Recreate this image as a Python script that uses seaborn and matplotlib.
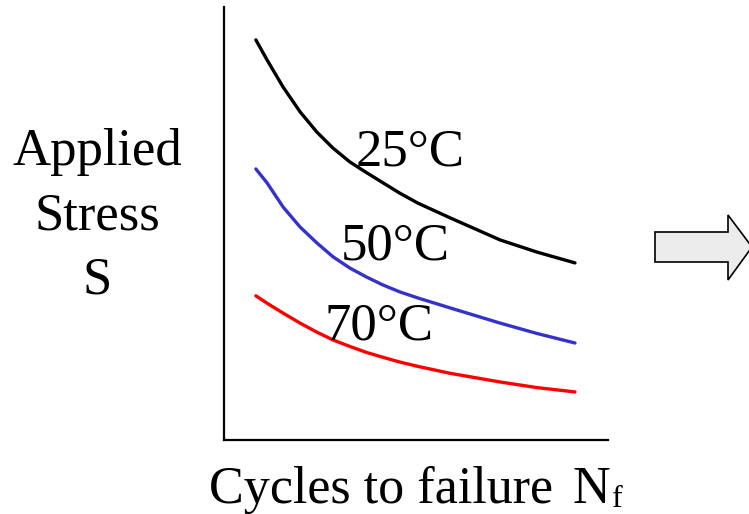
import numpy as np
import pandas as pd
import matplotlib.pyplot as plt
import seaborn as sbn
from matplotlib.patches import Polygon

# Values (arbitrary units, 0-10 on both axes)
cycles = [0.83, 1.12, 1.54, 1.98, 2.42, 2.84, 3.28, 3.72, 4.14, 4.58, 5.05, 5.89, 7.19, 8.15, 9.14]
stress_25 = [9.24, 8.78, 8.15, 7.58, 7.11, 6.74, 6.42, 6.17, 5.94, 5.70, 5.47, 5.13, 4.62, 4.34, 4.09]
stress_50 = [6.26, 5.94, 5.38, 4.92, 4.55, 4.23, 3.97, 3.76, 3.58, 3.42, 3.28, 3.05, 2.70, 2.46, 2.24]
stress_70 = [3.33, 3.16, 2.93, 2.70, 2.49, 2.31, 2.16, 2.02, 1.91, 1.80, 1.70, 1.54, 1.34, 1.21, 1.11]
temps = ["25°C", "50°C", "70°C"]
colors = {"25°C": "#000000", "50°C": "#3333cc", "70°C": "#ff0000"}

df = pd.concat([pd.DataFrame({"Cycles": cycles, "Stress": s, "Temp": t})
                for s, t in zip([stress_25, stress_50, stress_70], temps)],
               ignore_index=True)

sbn.set_style("white")
plt.rcParams['font.family'] = ['Liberation Serif', 'DejaVu Serif']
plt.rcParams['text.color'] = 'black'

fig = plt.figure(figsize=(7.49, 5.14), dpi=100)
W, H = 749, 514
ax = fig.add_axes([224 / W, 1 - 440 / H, 384 / W, 433 / H])

sbn.lineplot(data=df, x="Cycles", y="Stress", hue="Temp", palette=colors,
             linewidth=2.4, legend=False, ax=ax, sort=True)
ax.set_xlim(0, 10)
ax.set_ylim(0, 10)
ax.set_xticks([])
ax.set_yticks([])
ax.set_xlabel("")
ax.set_ylabel("")
for side in ["top", "right"]:
    ax.spines[side].set_visible(False)
for side in ["left", "bottom"]:
    ax.spines[side].set_linewidth(1.6)
    ax.spines[side].set_color("black")

fs = 38
def ftext(px, py, s, **kw):
    fig.text(px / W, 1 - py / H, s, va="baseline", color="black", **kw)

# curve labels
ftext(356, 165, "25°C", fontsize=fs)
ftext(341, 260, "50°C", fontsize=fs)
ftext(324, 340, "70°C", fontsize=fs)

# axis titles
ftext(97, 165, "Applied", fontsize=fs, ha="center")
ftext(97, 229, "Stress", fontsize=fs, ha="center")
ftext(97, 293, "S", fontsize=fs, ha="center")
ftext(209, 503, "Cycles to failure", fontsize=37.5)
ftext(573, 503, "N", fontsize=37.5)
ftext(612, 507, "f", fontsize=23)

# block arrow on the right edge
pts = [(655, 232), (728, 232), (728, 215), (752, 247), (728, 280), (728, 262), (655, 262)]
arrow = Polygon([(x / W, 1 - y / H) for x, y in pts], closed=True,
                facecolor="#ececec", edgecolor="black", linewidth=1.2,
                transform=fig.transFigure)
fig.add_artist(arrow)

plt.savefig("out.png", dpi=100)
